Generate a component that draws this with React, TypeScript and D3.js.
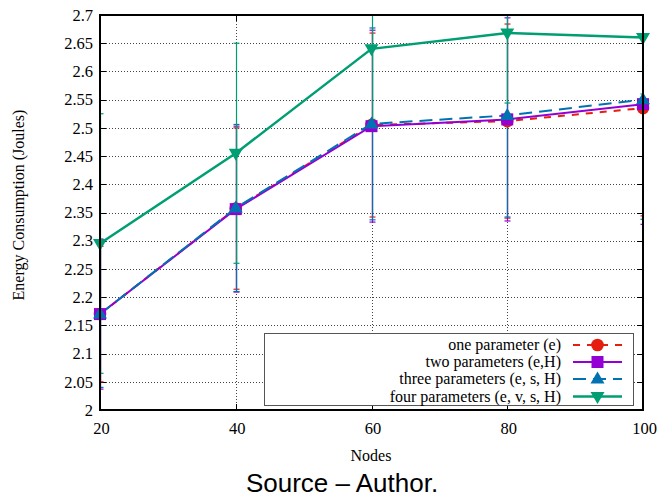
import React from "react";
import * as d3 from "d3";

const nodes = [20, 40, 60, 80, 100];
const seriesNames = [
  "one parameter (e)",
  "two parameters (e,H)",
  "three parameters (e, s, H)",
  "four parameters (e, v, s, H)",
];
const oneParam = [2.17, 2.357, 2.505, 2.512, 2.535];
const oneParamErr = [0.12, 0.143, 0.163, 0.172, 0.191];
const twoParam = [2.17, 2.356, 2.503, 2.515, 2.542];
const twoParamErr = [0.133, 0.147, 0.17, 0.18, 0.213];
const threeParam = [2.17, 2.358, 2.507, 2.522, 2.55];
const threeParamErr = [0.13, 0.148, 0.17, 0.18, 0.212];
const fourParam = [2.295, 2.455, 2.64, 2.668, 2.66];
const fourParamErr = [0.23, 0.195, 0.125, 0.124, 0.1];
const yTicks = [2, 2.05, 2.1, 2.15, 2.2, 2.25, 2.3, 2.35, 2.4, 2.45, 2.5, 2.55, 2.6, 2.65, 2.7];
const xTicks = [20, 40, 60, 80, 100];

const colors = ["#e51e10", "#9400d3", "#0072b2", "#009e73"];
const dashes = ["7,7", null, "13,7", null];
const widths = [2, 2, 2, 2.5];
const markers = ["circle", "square", "triangle", "triangleDown"];

const W = 659;
const H = 498;
const L = 100, R = 643, T = 15, B = 410;

function Marker({ type, x, y, color }: { type: string; x: number; y: number; color: string }) {
  if (type === "circle") return <circle cx={x} cy={y} r={6.3} fill={color} />;
  if (type === "square") return <rect x={x - 6} y={y - 6} width={12} height={12} fill={color} />;
  if (type === "triangle")
    return <path d={`M${x},${y - 7.5}L${x + 7},${y + 4.5}L${x - 7},${y + 4.5}Z`} fill={color} />;
  return <path d={`M${x},${y + 7.5}L${x + 7},${y - 4.5}L${x - 7},${y - 4.5}Z`} fill={color} />;
}

export default function App() {
  const x = d3.scaleLinear().domain([20, 100]).range([L, R]);
  const y = d3.scaleLinear().domain([2, 2.7]).range([B, T]);
  const data = [oneParam, twoParam, threeParam, fourParam];
  const errs = [oneParamErr, twoParamErr, threeParamErr, fourParamErr];
  const line = d3
    .line<number>()
    .x((_, i) => x(nodes[i]))
    .y((d) => y(d));
  const serif = "'Liberation Serif', 'Times New Roman', serif";

  const legX = 264, legY = 333, legW = 369, legH = 72;
  const legTextX = 561;
  const legBase = [350, 367, 384, 401.5];

  return (
    <svg width={W} height={H} style={{ position: "absolute", left: 0, top: 0 }} fontFamily={serif}>
      <rect width={W} height={H} fill="#fff" />
      <defs>
        <clipPath id="plotclip">
          <rect x={L} y={T} width={R - L} height={B - T} />
        </clipPath>
      </defs>
      {/* grid */}
      <g stroke="#444" strokeWidth={1} strokeDasharray="1,2">
        {yTicks.slice(1, -1).map((t) => (
          <line key={"gy" + t} x1={L} x2={R} y1={Math.round(y(t)) + 0.5} y2={Math.round(y(t)) + 0.5} />
        ))}
        {xTicks.slice(1, -1).map((t) => (
          <line key={"gx" + t} x1={Math.round(x(t)) + 0.5} x2={Math.round(x(t)) + 0.5} y1={T} y2={B} />
        ))}
      </g>
      {/* ticks */}
      <g stroke="#000" strokeWidth={1}>
        {yTicks.map((t) => (
          <g key={"ty" + t}>
            <line x1={L} x2={L + 6} y1={Math.round(y(t)) + 0.5} y2={Math.round(y(t)) + 0.5} />
            <line x1={R - 6} x2={R} y1={Math.round(y(t)) + 0.5} y2={Math.round(y(t)) + 0.5} />
          </g>
        ))}
        {xTicks.map((t) => (
          <g key={"tx" + t}>
            <line x1={Math.round(x(t)) + 0.5} x2={Math.round(x(t)) + 0.5} y1={B} y2={B - 6} />
            <line x1={Math.round(x(t)) + 0.5} x2={Math.round(x(t)) + 0.5} y1={T} y2={T + 6} />
          </g>
        ))}
      </g>
      {/* series */}
      <g clipPath="url(#plotclip)">
        {data.map((vals, si) => (
          <g key={"s" + si}>
            {vals.map((v, i) => {
              const cx = Math.round(x(nodes[i])) + 0.5;
              const y1 = y(v + errs[si][i]);
              const y2 = y(v - errs[si][i]);
              return (
                <g key={i} stroke={colors[si]} strokeWidth={1.2}>
                  <line x1={cx} x2={cx} y1={y1} y2={y2} />
                  <line x1={cx - 3} x2={cx + 3} y1={y1} y2={y1} />
                  <line x1={cx - 3} x2={cx + 3} y1={y2} y2={y2} />
                </g>
              );
            })}
            <path
              d={line(vals) || ""}
              fill="none"
              stroke={colors[si]}
              strokeWidth={widths[si]}
              strokeDasharray={dashes[si] || undefined}
            />
          </g>
        ))}
      </g>
      {data.map((vals, si) => (
        <g key={"m" + si}>
          {vals.map((v, i) => (
            <Marker key={i} type={markers[si]} x={x(nodes[i])} y={y(v)} color={colors[si]} />
          ))}
        </g>
      ))}
      {/* legend */}
      <rect x={legX + 0.5} y={legY + 0.5} width={legW} height={legH} fill="#fff" stroke="#555" strokeWidth={1} />
      {seriesNames.map((name, i) => (
        <g key={"l" + i}>
          <text x={legTextX} y={legBase[i]} fontSize={16} textAnchor="end" fill="#000">
            {name}
          </text>
          <line
            x1={573}
            x2={622}
            y1={legBase[i] - 5}
            y2={legBase[i] - 5}
            stroke={colors[i]}
            strokeWidth={widths[i]}
            strokeDasharray={dashes[i] || undefined}
          />
          <Marker type={markers[i]} x={597.5} y={legBase[i] - 5} color={colors[i]} />
        </g>
      ))}
      {/* border */}
      <rect x={L} y={T} width={R - L} height={B - T} fill="none" stroke="#000" strokeWidth={2} />
      {/* tick labels */}
      {yTicks.map((t) => (
        <text key={"ly" + t} x={93} y={y(t)} dy="0.35em" fontSize={16.5} textAnchor="end" fill="#000">
          {String(t)}
        </text>
      ))}
      {xTicks.map((t) => (
        <text key={"lx" + t} x={x(t) + 1.5} y={434} fontSize={16.5} textAnchor="middle" fill="#000">
          {String(t)}
        </text>
      ))}
      <text x={371} y={461} fontSize={16} textAnchor="middle" fill="#000">
        Nodes
      </text>
      <text
        transform={`translate(24,205) rotate(-90)`}
        fontSize={16}
        textAnchor="middle"
        fill="#000"
      >
        Energy Consumption (Joules)
      </text>
      <text
        x={342}
        y={492}
        fontSize={26}
        textAnchor="middle"
        fontFamily="'Liberation Sans', Arial, sans-serif"
        fill="#000"
      >
        Source – Author.
      </text>
    </svg>
  );
}
